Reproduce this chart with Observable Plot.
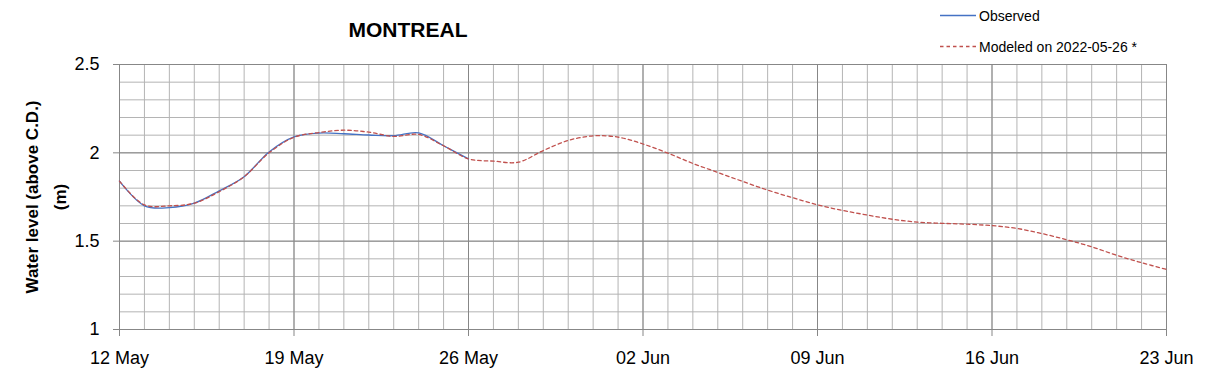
<!DOCTYPE html>
<html><head><meta charset="utf-8">
<script src="https://cdn.jsdelivr.net/npm/d3@7"></script>
<script src="https://cdn.jsdelivr.net/npm/@observablehq/plot@0.6"></script>
<style>body{margin:0;background:#fff;font-family:"Liberation Sans",Arial,sans-serif}</style>
</head><body><div id="chart"></div>
<script>
const chartTitle = "MONTREAL";
const yLabelLines = ["Water level (above C.D.)", "(m)"];
const seriesNames = ["Observed", "Modeled on 2022-05-26 *"];
const startDate = "2022-05-12";
const endDate = "2022-06-23";
// daily values starting 12 May
const observedValues = [1.84, 1.70, 1.69, 1.715, 1.785, 1.865, 2.005, 2.09, 2.112, 2.108, 2.101, 2.097, 2.113, 2.04, 1.966];
const modeledValues = [1.84, 1.705, 1.70, 1.715, 1.78, 1.865, 2.0, 2.088, 2.115, 2.128, 2.117, 2.093, 2.104, 2.04, 1.966,
  1.953, 1.947, 2.013, 2.07, 2.096, 2.089, 2.05, 1.998, 1.94, 1.889, 1.838, 1.789, 1.746, 1.706,
  1.674, 1.648, 1.624, 1.608, 1.601, 1.596, 1.588, 1.572, 1.543, 1.508, 1.468, 1.42, 1.378, 1.34];
const xTickLabels = ["2022-05-12", "2022-05-19", "2022-05-26", "2022-06-02", "2022-06-09", "2022-06-16", "2022-06-23"];
const yTickValues = [1, 1.5, 2, 2.5];

const d0 = new Date(startDate + "T00:00Z");
const d1 = new Date(endDate + "T00:00Z");
const toRows = vals => vals.map((v, i) => ({date: d3.utcDay.offset(d0, i), value: v}));
const obs = toRows(observedValues);
const mod = toRows(modeledValues);
const majorX = xTickLabels.map(s => new Date(s + "T00:00Z"));
const minorX = d3.utcDay.range(d0, d3.utcDay.offset(d1, 1));
const minorY = d3.range(10, 26).map(k => k / 10);

const plot = Plot.plot({
  width: 1209, height: 378,
  marginLeft: 119, marginRight: 43, marginTop: 64, marginBottom: 49,
  x: {type: "utc", domain: [d0, d1]},
  y: {domain: [1, 2.5]},
  style: {fontFamily: '"Liberation Sans", Arial, sans-serif', fontSize: "18px", color: "#000", background: "#fff"},
  marks: [
    Plot.ruleX(minorX, {stroke: "#b4b4b4", strokeWidth: 1}),
    Plot.ruleY(minorY, {stroke: "#b4b4b4", strokeWidth: 1}),
    Plot.ruleX(majorX, {stroke: "#878787", strokeWidth: 1}),
    Plot.ruleY(yTickValues, {stroke: "#878787", strokeWidth: 1}),
    Plot.axisX({ticks: majorX, tickFormat: d3.utcFormat("%d %b"), tickSize: 7, tickPadding: 15, stroke: "#878787", fill: "#000", fontSize: 18, label: null}),
    Plot.axisY({ticks: yTickValues, tickFormat: d => String(d), tickSize: 6, tickPadding: 14, stroke: "#878787", fill: "#000", fontSize: 18, label: null}),
    Plot.line(obs, {x: "date", y: "value", stroke: "#4472C4", strokeWidth: 1.3, curve: "catmull-rom"}),
    Plot.line(mod, {x: "date", y: "value", stroke: "#C0504D", strokeWidth: 1.3, strokeDasharray: "3.5,3", curve: "catmull-rom"})
  ]
});

const svg = d3.select(plot);
svg.append("text").attr("x", 408).attr("y", 37).attr("text-anchor", "middle")
  .attr("font-size", 21).attr("font-weight", "bold").attr("fill", "#000").text(chartTitle);
const yl = svg.append("g").attr("font-size", 17).attr("font-weight", "bold").attr("fill", "#000").attr("text-anchor", "middle");
yl.append("text").attr("transform", "translate(38,197) rotate(-90)").text(yLabelLines[0]);
yl.append("text").attr("transform", "translate(66,197) rotate(-90)").text(yLabelLines[1]);
const lg = svg.append("g").attr("font-size", 14).attr("fill", "#000").attr("text-anchor", "start");
lg.append("line").attr("x1", 940).attr("x2", 976).attr("y1", 15.5).attr("y2", 15.5).attr("stroke", "#4472C4").attr("stroke-width", 1.3);
lg.append("text").attr("x", 979).attr("y", 21).text(seriesNames[0]);
lg.append("line").attr("x1", 940).attr("x2", 976).attr("y1", 46.5).attr("y2", 46.5).attr("stroke", "#C0504D").attr("stroke-width", 1.3).attr("stroke-dasharray", "3.5,3");
lg.append("text").attr("x", 979).attr("y", 52).text(seriesNames[1]);

document.getElementById("chart").appendChild(plot);
</script>
</body></html>
